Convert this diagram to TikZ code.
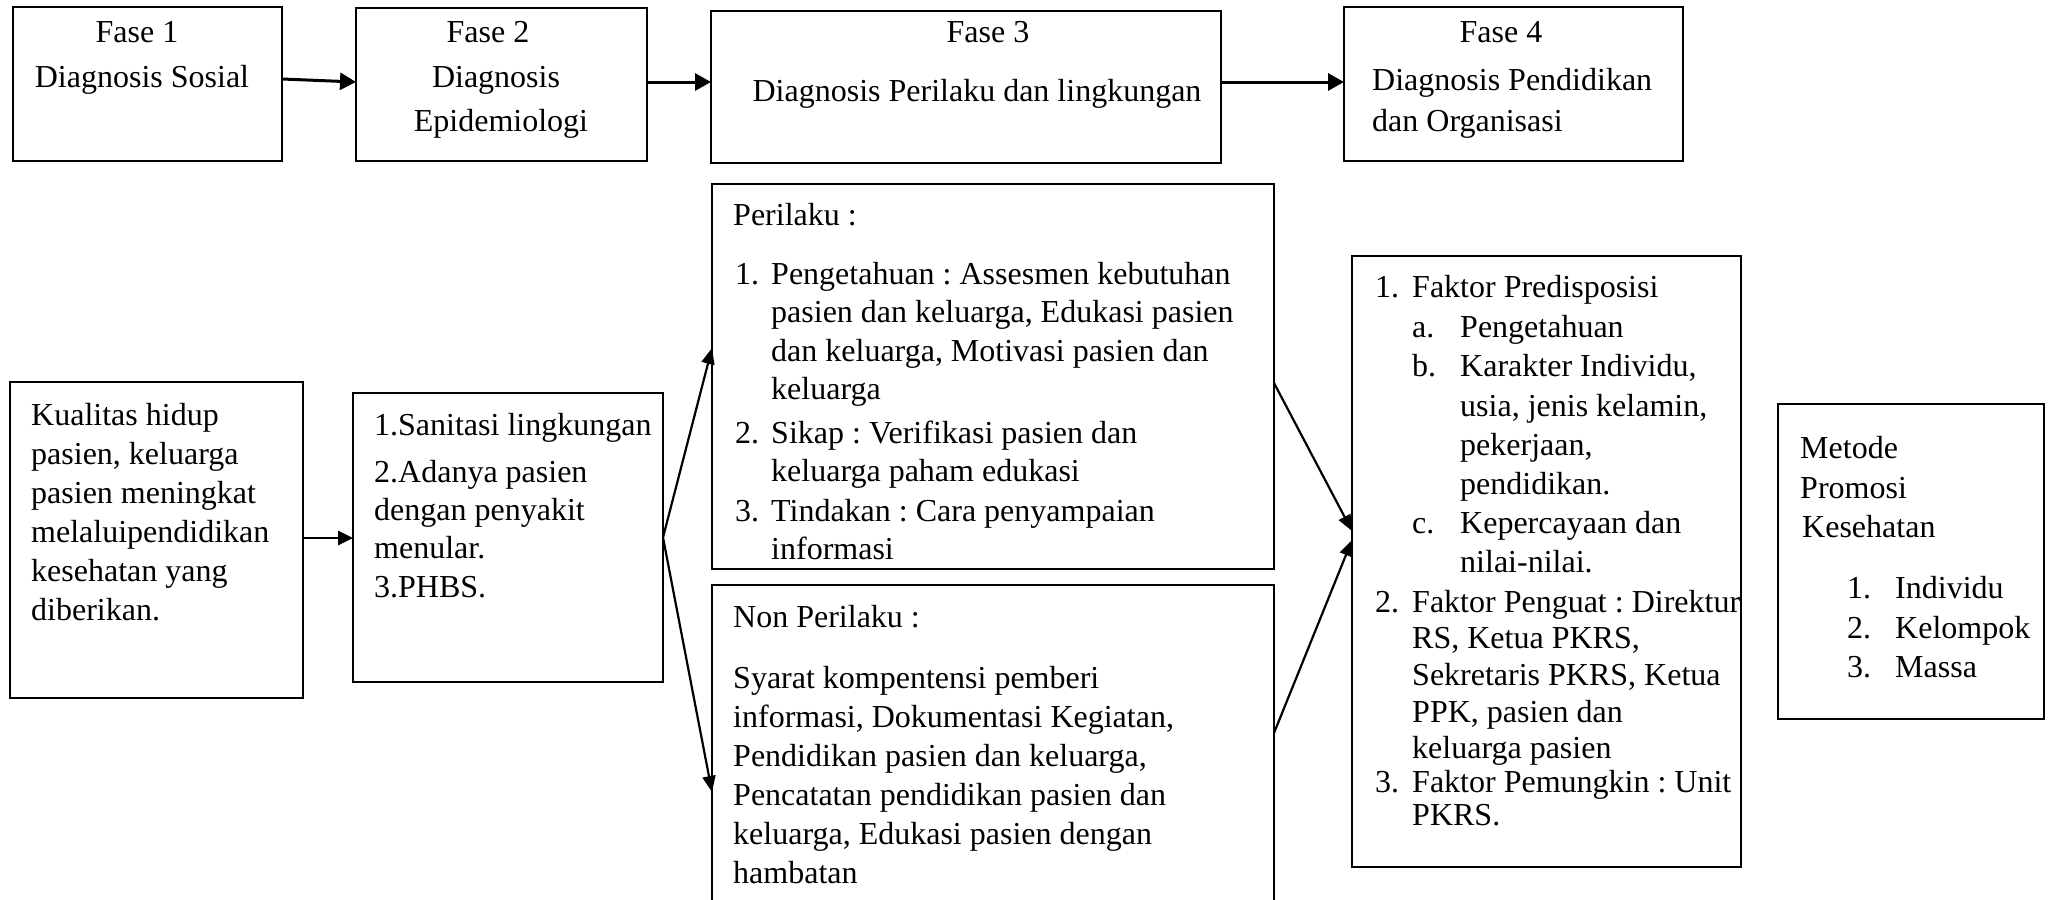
\documentclass[tikz,border=0pt]{standalone}
\usepackage{fontspec}
\setmainfont{Liberation Serif}
\usetikzlibrary{arrows.meta}
\newcommand\bodyfont{\fontsize{32}{38}\selectfont\frenchspacing}
\frenchspacing
\begin{document}
\begin{tikzpicture}[x=1pt,y=-1pt,
  box/.style={draw, line width=2pt, inner sep=0pt, outer sep=0pt, anchor=north west},
  txt/.style={anchor=base west, inner sep=0pt, font=\bodyfont},
  ctxt/.style={anchor=base, inner sep=0pt, font=\bodyfont},
  toparr/.style={-{Triangle[length=16pt,width=17pt]}, line width=3pt},
  arr/.style={-{Triangle[length=16pt,width=13pt]}, line width=2.2pt}]
\useasboundingbox (0,0) rectangle (2049,899);
\fill[white] (0,0) rectangle (2049,899);
\clip (0,0) rectangle (2049,899);

% ---------- top row ----------
\node[box, minimum width=269pt, minimum height=154pt] (f1) at (13,7) {};
\node[box, minimum width=291pt, minimum height=153pt] (f2) at (356,8) {};
\node[box, minimum width=510pt, minimum height=152pt] (f3) at (711,11) {};
\node[box, minimum width=339pt, minimum height=154pt] (f4) at (1344,7) {};

\node[ctxt] (f1a) at (137,43) {Fase 1};
\node[ctxt] (f1b) at (142,88) {Diagnosis Sosial};
\node[ctxt] (f2a) at (488,43) {Fase 2};
\node[ctxt] (f2b) at (496,88) {Diagnosis};
\node[ctxt] (f2c) at (501,131) {Epidemiologi};
\node[ctxt] (f3a) at (988,43) {Fase 3};
\node[ctxt] (f3b) at (977,101) {Diagnosis Perilaku dan lingkungan};
\node[ctxt] (f4a) at (1501,43) {Fase 4};
\node[txt] (f4b) at (1372,90) {Diagnosis Pendidikan};
\node[txt] (f4c) at (1372,131) {dan Organisasi};

\draw[toparr] ([yshift=5pt]f1.east) -- ([yshift=2.5pt]f2.west);
\draw[toparr] ([yshift=2.5pt]f2.east) -- ([yshift=5pt]f3.west);
\draw[toparr] ([yshift=5pt]f3.east) -- ([yshift=2pt]f4.west);

% ---------- bottom row boxes ----------
\node[box, minimum width=293pt, minimum height=316pt] (kual) at (10,382) {};
\node[box, minimum width=310pt, minimum height=289pt] (san) at (353,393) {};
\node[box, minimum width=562pt, minimum height=385pt] (per) at (712,184) {};
\node[box, minimum width=562pt, minimum height=345pt] (non) at (712,585) {};
\node[box, minimum width=389pt, minimum height=611pt] (fak) at (1352,256) {};
\node[box, minimum width=266pt, minimum height=315pt] (met) at (1778,404) {};

% Kualitas
\node[txt] (k1) at (31,425) {Kualitas hidup};
\node[txt] (k2) at (31,464) {pasien, keluarga};
\node[txt] (k3) at (31,503) {pasien meningkat};
\node[txt] (k4) at (31,542) {melaluipendidikan};
\node[txt] (k5) at (31,581) {kesehatan yang};
\node[txt] (k6) at (31,620) {diberikan.};

% Sanitasi
\node[txt] (s1) at (374,435) {1.Sanitasi lingkungan};
\node[txt] (s2) at (374,482) {2.Adanya pasien};
\node[txt] (s3) at (374,520) {dengan penyakit};
\node[txt] (s4) at (374,558) {menular.};
\node[txt] (s5) at (374,597) {3.PHBS.};

% Perilaku
\node[txt] (p0) at (733,225) {Perilaku :};
\node[txt] (p1n) at (735,284) {1.};
\node[txt] (p1) at (771,284) {Pengetahuan : Assesmen kebutuhan};
\node[txt] (p1b) at (771,322.5) {pasien dan keluarga, Edukasi pasien};
\node[txt] (p1c) at (771,361) {dan keluarga, Motivasi pasien dan};
\node[txt] (p1d) at (771,399.5) {keluarga};
\node[txt] (p2n) at (735,443) {2.};
\node[txt] (p2) at (771,443) {Sikap : Verifikasi pasien dan};
\node[txt] (p2b) at (771,481.5) {keluarga paham edukasi};
\node[txt] (p3n) at (735,521) {3.};
\node[txt] (p3) at (771,521) {Tindakan : Cara penyampaian};
\node[txt] (p3b) at (771,559.5) {informasi};

% Non Perilaku
\node[txt] (n0) at (733,627) {Non Perilaku :};
\node[txt] (n1) at (733,688) {Syarat kompentensi pemberi};
\node[txt] (n2) at (733,727) {informasi, Dokumentasi Kegiatan,};
\node[txt] (n3) at (733,766) {Pendidikan pasien dan keluarga,};
\node[txt] (n4) at (733,805) {Pencatatan pendidikan pasien dan};
\node[txt] (n5) at (733,844) {keluarga, Edukasi pasien dengan};
\node[txt] (n6) at (733,883) {hambatan};

% Faktor
\node[txt] (a1n) at (1375,297) {1.};
\node[txt] (a1) at (1412,297) {Faktor Predisposisi};
\node[txt] (aan) at (1412,337) {a.};
\node[txt] (aa) at (1460,337) {Pengetahuan};
\node[txt] (abn) at (1412,376) {b.};
\node[txt] (ab) at (1460,376) {Karakter Individu,};
\node[txt] (ab2) at (1460,416) {usia, jenis kelamin,};
\node[txt] (ab3) at (1460,455) {pekerjaan,};
\node[txt] (ab4) at (1460,494) {pendidikan.};
\node[txt] (acn) at (1412,533) {c.};
\node[txt] (ac) at (1460,533) {Kepercayaan dan};
\node[txt] (ac2) at (1460,572) {nilai-nilai.};
\node[txt] (a2n) at (1375,612) {2.};
\node[txt] (a2) at (1412,612) {Faktor Penguat : Direktur};
\node[txt] (a2b) at (1412,648) {RS, Ketua PKRS,};
\node[txt] (a2c) at (1412,685) {Sekretaris PKRS, Ketua};
\node[txt] (a2d) at (1412,722) {PPK, pasien dan};
\node[txt] (a2e) at (1412,758) {keluarga pasien};
\node[txt] (a3n) at (1375,792) {3.};
\node[txt] (a3) at (1412,792) {Faktor Pemungkin : Unit};
\node[txt] (a3b) at (1412,825) {PKRS.};

% Metode
\node[txt] (m1) at (1800,458) {Metode};
\node[txt] (m2) at (1800,498) {Promosi};
\node[txt] (m3) at (1802,537) {Kesehatan};
\node[txt] (m4n) at (1847,598) {1.};
\node[txt] (m4) at (1895,598) {Individu};
\node[txt] (m5n) at (1847,638) {2.};
\node[txt] (m5) at (1895,638) {Kelompok};
\node[txt] (m6n) at (1847,677) {3.};
\node[txt] (m6) at (1895,677) {Massa};

% ---------- connectors ----------
\draw[-{Triangle[length=15pt,width=14pt]}, line width=2.8pt] ([yshift=2pt]kual.east) -- ([yshift=-0.5pt]san.west);
\draw[arr] (san.east) -- ([yshift=28.5pt]per.west);
\draw[arr] (san.east) -- ([yshift=-34.5pt]non.west);
\draw[arr] ([yshift=-6.5pt]per.east) -- ([yshift=30.5pt]fak.west);
\draw[arr] ([yshift=24.5pt]non.east) -- ([yshift=21.5pt]fak.west);
\end{tikzpicture}
\end{document}
